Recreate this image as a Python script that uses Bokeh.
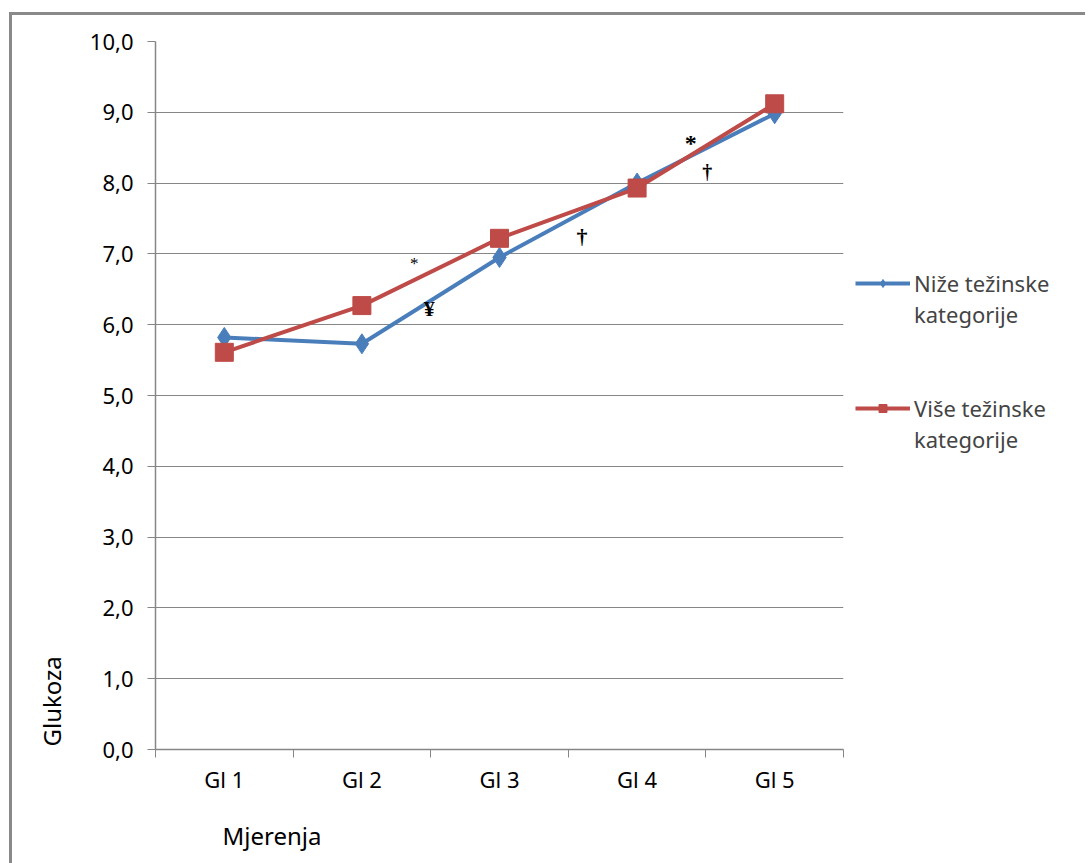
import numpy as np
from bokeh.plotting import figure
from bokeh.layouts import row
from bokeh.models import (Range1d, FixedTicker, CustomJSTickFormatter, Label,
                          Legend, LegendItem, Title)
from bokeh.embed import file_html
from bokeh.resources import INLINE

categories = ["Gl 1", "Gl 2", "Gl 3", "Gl 4", "Gl 5"]
nize = [5.82, 5.73, 6.95, 8.00, 8.98]
vise = [5.61, 6.27, 7.22, 7.93, 9.12]
series_lines = [["Niže težinske", "kategorije"], ["Više težinske", "kategorije"]]
y_title = "Glukoza"
x_title = "Mjerenja"

ann_text = ["*", "¥", "†", "*", "†"]
ann_x = [1.88, 1.99, 3.10, 3.89, 4.01]
ann_y = [6.86, 6.23, 7.25, 8.57, 8.16]
ann_style = ["normal", "bold", "bold", "bold", "bold"]
ann_size = ["17px", "22px", "22px", "24px", "20px"]

GRAY = "#868686"
BORDER = "3px solid #898989"
BLUE = "#4A7EBB"
RED = "#BE4B48"
FONT = "Noto Sans"

xc = np.arange(len(categories)) + 0.5

p = figure(frame_width=685, frame_height=705, output_backend="svg", toolbar_location=None,
           x_range=Range1d(0, len(categories)), y_range=Range1d(0, 10),
           min_border_left=143, min_border_top=26, min_border_bottom=60,
           min_border_right=10)
p.styles = {"border-left": BORDER, "border-top": BORDER}
p.outline_line_color = None
p.background_fill_color = "white"
p.border_fill_color = "white"

# axes
p.yaxis.ticker = FixedTicker(ticks=list(range(0, 11)))
p.yaxis.formatter = CustomJSTickFormatter(code="return tick.toFixed(1).replace('.', ',');")
p.yaxis.axis_line_color = GRAY
p.yaxis.axis_line_width = 1.5
p.yaxis.major_tick_line_color = GRAY
p.yaxis.major_tick_out = 8
p.yaxis.major_tick_in = 0
p.yaxis.minor_tick_line_color = None
p.yaxis.major_label_standoff = 14
p.yaxis.major_label_text_font = FONT
p.yaxis.major_label_text_font_size = "22px"
p.yaxis.major_label_text_color = "black"

p.xaxis.ticker = FixedTicker(ticks=list(xc), minor_ticks=list(range(0, len(categories) + 1)))
p.xaxis.major_label_overrides = {float(x): c for x, c in zip(xc, categories)}
p.xaxis.axis_line_color = GRAY
p.xaxis.axis_line_width = 1.5
p.xaxis.major_tick_line_color = None
p.xaxis.major_tick_out = 0
p.xaxis.major_tick_in = 0
p.xaxis.minor_tick_line_color = GRAY
p.xaxis.minor_tick_out = 8
p.xaxis.minor_tick_in = 0
p.xaxis.major_label_standoff = 6
p.xaxis.major_label_text_font = FONT
p.xaxis.major_label_text_font_size = "22px"
p.xaxis.major_label_text_color = "black"

p.xgrid.grid_line_color = None
p.ygrid.ticker = FixedTicker(ticks=list(range(0, 11)))
p.ygrid.grid_line_color = GRAY
p.ygrid.grid_line_width = 1

# series
p.line(xc, nize, line_color=BLUE, line_width=4)
p.scatter(xc, nize, marker="diamond", size=20, fill_color=BLUE, line_color=BLUE)
p.line(xc, vise, line_color=RED, line_width=4)
p.scatter(xc, vise, marker="square", size=18, fill_color=RED, line_color=RED)

# significance annotations
for t, x, y, st, sz in zip(ann_text, ann_x, ann_y, ann_style, ann_size):
    p.add_layout(Label(x=x, y=y, text=t, text_font="Liberation Serif",
                       text_font_style=st, text_font_size=sz, text_align="center",
                       text_baseline="middle", text_color="black"))

# axis titles
p.add_layout(Title(text=y_title, align="left", offset=3, standoff=37,
                   text_font=FONT, text_font_size="24px", text_font_style="normal",
                   text_color="black"), "left")
p.add_layout(Title(text=x_title, align="left", offset=67, standoff=40,
                   vertical_align="bottom",
                   text_font=FONT, text_font_size="24px", text_font_style="normal",
                   text_color="black"), "below")

# legend panel (renderers sit outside its visible range; only the legends show)
q = figure(width=235, height=845, output_backend="svg", toolbar_location=None,
           x_axis_type=None, y_axis_type=None, min_border=0,
           x_range=Range1d(0, 1), y_range=Range1d(0, 1))
q.styles = {"border-top": BORDER}
q.outline_line_color = None
q.grid.grid_line_color = None
q.border_fill_color = "white"
off = [-10, -9]
blank = q.line(off, off, line_alpha=0)
r1 = [q.line(off, off, line_color=BLUE, line_width=4),
      q.scatter(off, off, marker="diamond", size=14, fill_color=BLUE, line_color=BLUE)]
r2 = [q.line(off, off, line_color=RED, line_width=4),
      q.scatter(off, off, marker="square", size=18, fill_color=RED, line_color=RED)]

for lines, rends, ypos in zip(series_lines, [r1, r2], [409, 284]):
    lg = Legend(items=[LegendItem(label=lines[0], renderers=rends),
                       LegendItem(label=lines[1], renderers=[blank])],
                location=(5, ypos), glyph_width=55, glyph_height=20,
                label_height=31, spacing=0, padding=0, margin=0, label_standoff=4,
                label_text_font=FONT, label_text_font_size="22px",
                border_line_color=None, background_fill_alpha=0)
    q.add_layout(lg)

layout = row(p, q, spacing=0, styles={"margin-top": "12px", "margin-left": "9px"})

open("out.html", "w").write(file_html(layout, INLINE))
